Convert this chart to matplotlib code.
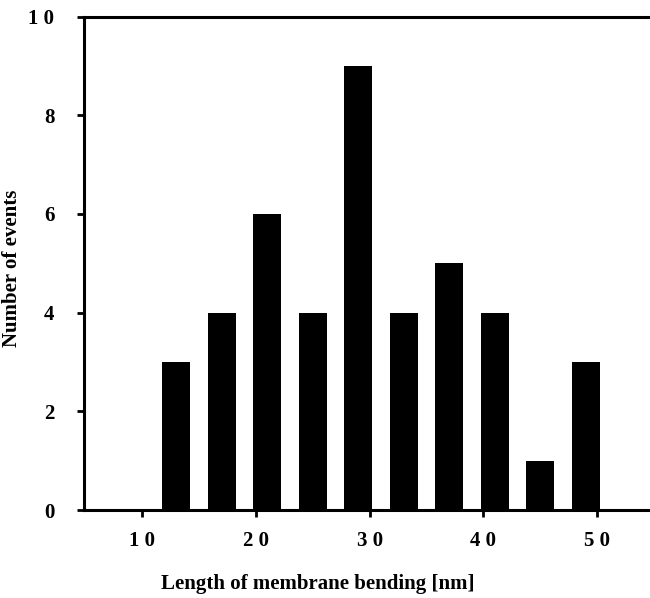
import matplotlib
matplotlib.use("Agg")
import matplotlib.pyplot as plt

bin_centers = [13, 17, 21, 25, 29, 33, 37, 41, 45, 49]
counts = [3, 4, 6, 4, 9, 4, 5, 4, 1, 3]
x_ticks = [10, 20, 30, 40, 50]
x_tick_labels = ["1 0", "2 0", "3 0", "4 0", "5 0"]
y_ticks = [0, 2, 4, 6, 8, 10]
y_tick_labels = ["0", "2", "4", "6", "8", "1 0"]

W, H = 650, 598
fig = plt.figure(figsize=(W / 100, H / 100), dpi=100)
left, right, bottom, top = 83.5, 649, 510, 16.5
ax = fig.add_axes([left / W, 1 - bottom / H, (right - left) / W, (bottom - top) / H])

ax.bar(bin_centers, counts, width=2.45, color="black", edgecolor="black", linewidth=0)

ax.set_xlim(10 - (142 - left) / 11.38, 10 + (right - 142) / 11.38)
ax.set_ylim(0, 10)

font = {"family": "Liberation Serif", "weight": "bold", "size": 15}
ax.set_xticks(x_ticks)
ax.set_xticklabels(x_tick_labels, fontdict=font)
ax.set_yticks(y_ticks)
ax.set_yticklabels(y_tick_labels, fontdict=font)
ax.tick_params(axis="x", direction="out", length=5, width=2, pad=10)
ax.tick_params(axis="y", direction="out", length=5, width=2, pad=16)

for s in ["left", "bottom", "top"]:
    ax.spines[s].set_linewidth(2.2)
ax.spines["right"].set_visible(False)

fig.text(318 / W, 1 - 584 / H, "Length of membrane bending [nm]", ha="center", va="center",
         family="Liberation Serif", weight="bold", size=15)
fig.text(12 / W, 1 - 268 / H, "Number of events", ha="center", va="center", rotation=90,
         family="Liberation Serif", weight="bold", size=15)

fig.savefig("out.png", dpi=100)
